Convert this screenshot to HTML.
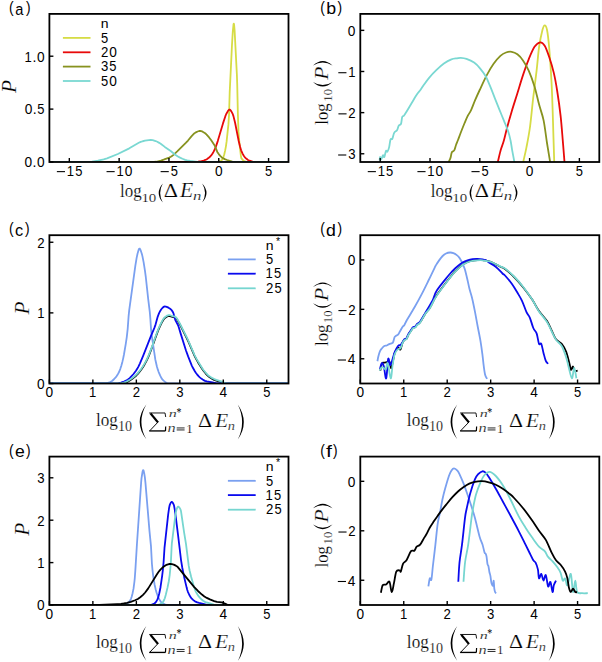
<!DOCTYPE html>
<html><head><meta charset="utf-8"><style>
html,body{margin:0;padding:0;background:#fff;}
svg{display:block;}
text{font-kerning:none;}
</style></head><body>
<svg width="602" height="662" viewBox="0 0 602 662">
<rect width="602" height="662" fill="#fff"/>
<clipPath id="c1"><rect x="49.40" y="13.90" width="239.10" height="148.10"/></clipPath>
<g clip-path="url(#c1)" fill="none" stroke-linejoin="round" stroke-linecap="butt">
<path d="M46.40,162.00 L214.65,162.00 L216.45,161.92 L218.08,161.70 L220.21,161.21 L221.03,160.87 L221.52,160.39 L222.17,159.44 L223.48,156.85 L224.30,154.22 L225.12,150.65 L225.93,146.34 L226.59,141.70 L228.39,124.68 L229.04,114.98 L229.69,92.46 L231.98,45.00 L232.80,31.52 L233.45,25.00 L233.62,24.02 L233.78,23.60 L233.94,23.92 L234.11,24.95 L234.60,30.39 L236.89,74.75 L237.22,84.37 L237.87,114.04 L238.52,131.89 L239.01,138.69 L239.50,143.64 L240.81,155.18 L241.14,157.29 L241.47,158.45 L242.77,159.93 L244.08,160.97 L245.55,161.68 L247.03,161.98 L291.50,162.00" stroke="#d6dc45" stroke-width="1.80"/>
<path d="M46.40,162.00 L194.21,162.00 L196.01,161.89 L198.14,161.60 L201.41,161.05 L203.70,160.52 L205.33,159.97 L206.80,159.22 L208.44,158.06 L210.24,156.47 L211.22,155.37 L212.20,154.02 L213.34,152.16 L214.49,150.03 L215.80,146.87 L217.76,141.12 L222.99,123.39 L225.44,115.95 L226.26,114.02 L227.89,111.06 L228.71,110.00 L229.20,109.66 L229.53,109.60 L229.86,109.68 L230.35,110.03 L231.33,111.35 L232.80,114.19 L233.45,116.13 L235.09,122.71 L238.69,140.97 L240.16,147.00 L241.14,150.30 L242.45,153.36 L243.76,155.75 L244.90,157.29 L246.54,158.84 L248.01,159.94 L249.48,160.69 L252.58,161.59 L255.04,161.97 L291.50,162.00" stroke="#e80a0a" stroke-width="1.80"/>
<path d="M46.40,162.00 L153.99,162.00 L156.28,161.75 L161.02,160.53 L164.29,159.44 L169.20,157.59 L170.83,156.79 L171.97,156.08 L173.77,154.62 L177.21,151.45 L186.04,142.63 L188.00,140.52 L191.43,136.31 L194.21,133.49 L195.36,132.63 L197.65,131.51 L199.12,131.02 L200.26,130.90 L201.24,131.06 L202.22,131.44 L205.17,133.25 L206.64,134.61 L209.09,137.43 L211.22,140.32 L214.16,144.70 L215.30,146.85 L217.27,151.89 L218.74,154.12 L220.21,155.90 L221.52,157.15 L222.83,158.08 L224.79,159.10 L227.08,159.99 L232.31,161.61 L233.62,161.88 L234.76,162.00 L291.50,162.00" stroke="#87921f" stroke-width="1.80"/>
<path d="M46.40,162.00 L89.40,161.99 L92.02,161.72 L97.91,160.65 L103.63,159.33 L107.06,158.35 L117.85,154.00 L129.30,148.32 L135.35,144.70 L138.78,142.78 L140.74,141.87 L142.71,141.25 L145.00,140.72 L148.76,140.07 L150.72,139.90 L152.68,140.14 L155.62,141.04 L157.26,141.75 L159.22,142.86 L161.02,144.01 L164.78,146.89 L170.67,150.95 L175.25,154.72 L177.53,156.23 L179.50,157.36 L182.44,158.73 L185.22,159.80 L187.18,160.35 L190.29,160.93 L197.32,161.79 L200.43,162.00 L291.50,162.00" stroke="#7ad8d2" stroke-width="1.80"/>
</g>
<line x1="69.32" y1="162.00" x2="69.32" y2="158.00" stroke="#000" stroke-width="1.40"/>
<rect x="56.86" y="171.09" width="8.14" height="1.08" fill="#000"/>
<text transform="matrix(0.6544 0.0000 0.0000 0.6888 66.8109 175.7000)" font-family="Liberation Sans" font-size="20" fill="#000">1</text>
<text transform="matrix(0.6467 0.0000 0.0000 0.6923 75.1358 175.7489)" font-family="Liberation Sans" font-size="20" fill="#000">5</text>
<line x1="119.14" y1="162.00" x2="119.14" y2="158.00" stroke="#000" stroke-width="1.40"/>
<rect x="106.54" y="171.09" width="8.14" height="1.08" fill="#000"/>
<text transform="matrix(0.6544 0.0000 0.0000 0.6888 116.4870 175.7000)" font-family="Liberation Sans" font-size="20" fill="#000">1</text>
<text transform="matrix(0.6852 0.0000 0.0000 0.6944 124.6483 175.7485)" font-family="Liberation Sans" font-size="20" fill="#000">0</text>
<line x1="168.95" y1="162.00" x2="168.95" y2="158.00" stroke="#000" stroke-width="1.40"/>
<rect x="160.63" y="171.09" width="8.14" height="1.08" fill="#000"/>
<text transform="matrix(0.6467 0.0000 0.0000 0.6923 170.6253 175.7489)" font-family="Liberation Sans" font-size="20" fill="#000">5</text>
<line x1="218.76" y1="162.00" x2="218.76" y2="158.00" stroke="#000" stroke-width="1.40"/>
<text transform="matrix(0.6852 0.0000 0.0000 0.6944 214.9518 175.7485)" font-family="Liberation Sans" font-size="20" fill="#000">0</text>
<line x1="268.57" y1="162.00" x2="268.57" y2="158.00" stroke="#000" stroke-width="1.40"/>
<text transform="matrix(0.6467 0.0000 0.0000 0.6923 264.9913 175.7489)" font-family="Liberation Sans" font-size="20" fill="#000">5</text>
<line x1="49.40" y1="162.00" x2="53.40" y2="162.00" stroke="#000" stroke-width="1.40"/>
<text transform="matrix(0.6852 0.0000 0.0000 0.6944 24.5106 167.3485)" font-family="Liberation Sans" font-size="20" fill="#000">0</text>
<text transform="matrix(0.7033 0.0000 0.0000 0.7539 32.5657 167.3000)" font-family="Liberation Sans" font-size="20" fill="#000">.</text>
<text transform="matrix(0.6852 0.0000 0.0000 0.6944 36.9139 167.3485)" font-family="Liberation Sans" font-size="20" fill="#000">0</text>
<line x1="49.40" y1="109.11" x2="53.40" y2="109.11" stroke="#000" stroke-width="1.40"/>
<text transform="matrix(0.6852 0.0000 0.0000 0.6944 24.7835 114.4556)" font-family="Liberation Sans" font-size="20" fill="#000">0</text>
<text transform="matrix(0.7033 0.0000 0.0000 0.7539 32.8386 114.4071)" font-family="Liberation Sans" font-size="20" fill="#000">.</text>
<text transform="matrix(0.6467 0.0000 0.0000 0.6923 37.3503 114.4560)" font-family="Liberation Sans" font-size="20" fill="#000">5</text>
<line x1="49.40" y1="56.21" x2="53.40" y2="56.21" stroke="#000" stroke-width="1.40"/>
<text transform="matrix(0.6544 0.0000 0.0000 0.6888 24.6202 61.5143)" font-family="Liberation Sans" font-size="20" fill="#000">1</text>
<text transform="matrix(0.7033 0.0000 0.0000 0.7539 32.5657 61.5143)" font-family="Liberation Sans" font-size="20" fill="#000">.</text>
<text transform="matrix(0.6852 0.0000 0.0000 0.6944 36.9139 61.5627)" font-family="Liberation Sans" font-size="20" fill="#000">0</text>
<rect x="49.40" y="13.90" width="239.10" height="148.10" fill="none" stroke="#000" stroke-width="1.80"/>
<line x1="62.90" y1="37.90" x2="90.50" y2="37.90" stroke="#d6dc45" stroke-width="1.80"/>
<text transform="matrix(0.6467 0.0000 0.0000 0.6923 101.0822 42.6489)" font-family="Liberation Sans" font-size="20" fill="#000">5</text>
<line x1="62.90" y1="52.30" x2="90.50" y2="52.30" stroke="#e80a0a" stroke-width="1.80"/>
<text transform="matrix(0.6605 0.0000 0.0000 0.6909 100.9357 57.0000)" font-family="Liberation Sans" font-size="20" fill="#000">2</text>
<text transform="matrix(0.6852 0.0000 0.0000 0.6944 109.2405 57.0485)" font-family="Liberation Sans" font-size="20" fill="#000">0</text>
<line x1="62.90" y1="66.60" x2="90.50" y2="66.60" stroke="#87921f" stroke-width="1.80"/>
<text transform="matrix(0.6580 0.0000 0.0000 0.6944 101.0988 71.3485)" font-family="Liberation Sans" font-size="20" fill="#000">3</text>
<text transform="matrix(0.6467 0.0000 0.0000 0.6923 109.3659 71.3489)" font-family="Liberation Sans" font-size="20" fill="#000">5</text>
<line x1="62.90" y1="81.00" x2="90.50" y2="81.00" stroke="#7ad8d2" stroke-width="1.80"/>
<text transform="matrix(0.6467 0.0000 0.0000 0.6923 101.0822 85.7489)" font-family="Liberation Sans" font-size="20" fill="#000">5</text>
<text transform="matrix(0.6852 0.0000 0.0000 0.6944 109.1897 85.7485)" font-family="Liberation Sans" font-size="20" fill="#000">0</text>
<text transform="matrix(0.7008 0.0000 0.0000 0.6765 100.6692 28.1000)" font-family="Liberation Sans" font-size="20" fill="#000">n</text>
<text transform="matrix(0.6889 0.0000 0.0000 0.7791 9.0456 13.3946)" font-family="Liberation Sans" font-size="20" fill="#000">(</text>
<text transform="matrix(0.7329 0.0000 0.0000 0.8542 15.2147 14.5357)" font-family="Liberation Sans" font-size="20" fill="#000">a</text>
<text transform="matrix(0.6889 0.0000 0.0000 0.7791 26.0715 13.3946)" font-family="Liberation Sans" font-size="20" fill="#000">)</text>
<text transform="matrix(0.8476 0.0000 0.0000 0.9289 119.9606 197.3904)" font-family="Liberation Serif" stroke="#fff" stroke-width="0.225" font-size="20" fill="#000">log</text>
<text transform="matrix(0.7494 0.0000 0.0000 0.6595 141.3827 202.0712)" font-family="Liberation Serif" stroke="#fff" stroke-width="0.284" font-size="20" fill="#000">10</text>
<path d="M162.80,183.40 Q154.60,192.95 162.80,202.50 Q157.50,192.95 162.80,183.40 Z" fill="#000"/>
<text transform="matrix(1.1104 0.0000 0.0000 0.9922 163.8542 197.3000)" font-family="Liberation Serif" stroke="#fff" stroke-width="0.191" font-size="20" fill="#000">Δ</text>
<text transform="matrix(1.0801 0.0000 0.0000 1.0003 180.0531 197.3000)" font-family="Liberation Serif" font-style="italic" stroke="#fff" stroke-width="0.192" font-size="20" fill="#000">E</text>
<text transform="matrix(0.8395 0.0000 0.0000 0.6685 192.9015 200.1000)" font-family="Liberation Serif" font-style="italic" stroke="#fff" stroke-width="0.267" font-size="20" fill="#000">n</text>
<path d="M202.20,183.60 Q210.80,193.05 202.20,202.50 Q207.90,193.05 202.20,183.60 Z" fill="#000"/>
<text transform="matrix(0.0000 -1.0748 1.0156 0.0000 15.8000 93.0845)" font-family="Liberation Serif" font-style="italic" stroke="#fff" stroke-width="0.191" font-size="20" fill="#000">P</text>
<clipPath id="c2"><rect x="360.30" y="13.90" width="239.00" height="148.10"/></clipPath>
<g clip-path="url(#c2)" fill="none" stroke-linejoin="round" stroke-linecap="butt">
<path d="M523.20,162.00 C523.25,161.78 522.97,163.10 523.50,160.70 C524.03,158.30 525.32,153.22 526.40,147.60 C527.48,141.98 528.87,135.30 530.00,127.00 C531.13,118.70 532.10,107.20 533.20,97.80 C534.30,88.40 535.62,79.07 536.60,70.60 C537.58,62.13 538.12,53.80 539.10,47.00 C540.08,40.20 541.57,33.42 542.50,29.80 C543.43,26.18 543.95,25.30 544.70,25.30 C545.45,25.30 546.25,26.02 547.00,29.80 C547.75,33.58 548.45,39.32 549.20,48.00 C549.95,56.68 550.93,71.72 551.50,81.90 C552.07,92.08 552.27,99.67 552.60,109.10 C552.93,118.53 553.23,129.90 553.50,138.50 C553.77,147.10 554.07,156.78 554.20,160.70 C554.33,164.62 554.28,161.78 554.30,162.00" stroke="#d6dc45" stroke-width="1.80"/>
<path d="M497.80,162.00 C497.85,161.78 497.60,162.73 498.10,160.70 C498.60,158.67 499.85,153.12 500.80,149.80 C501.75,146.48 502.73,144.57 503.80,140.80 C504.87,137.03 505.88,132.10 507.20,127.20 C508.52,122.30 510.00,117.07 511.70,111.40 C513.40,105.73 515.52,99.25 517.40,93.20 C519.28,87.15 521.12,80.75 523.00,75.10 C524.88,69.45 526.78,64.02 528.70,59.30 C530.62,54.58 532.58,49.63 534.50,46.80 C536.42,43.97 538.50,42.48 540.20,42.30 C541.90,42.12 543.20,43.25 544.70,45.70 C546.20,48.15 547.68,52.47 549.20,57.00 C550.72,61.53 552.47,67.23 553.80,72.90 C555.13,78.57 556.07,83.83 557.20,91.00 C558.33,98.17 559.67,107.60 560.60,115.90 C561.53,124.20 562.17,133.33 562.80,140.80 C563.43,148.27 564.12,157.17 564.40,160.70 C564.68,164.23 564.48,161.78 564.50,162.00" stroke="#e80a0a" stroke-width="1.80"/>
<path d="M448.60,162.00 C448.92,161.32 449.97,159.52 450.50,157.90 C451.03,156.28 451.18,153.55 451.80,152.30 C452.42,151.05 453.48,151.67 454.20,150.40 C454.92,149.13 455.47,146.43 456.10,144.70 C456.73,142.97 457.22,142.03 458.00,140.00 C458.78,137.97 459.70,135.33 460.80,132.50 C461.90,129.67 463.48,125.68 464.60,123.00 C465.72,120.32 466.40,118.60 467.50,116.40 C468.60,114.20 469.95,112.47 471.20,109.80 C472.45,107.13 473.58,103.70 475.00,100.40 C476.42,97.10 477.73,94.22 479.70,90.00 C481.67,85.78 484.48,79.47 486.80,75.10 C489.12,70.73 491.33,67.00 493.60,63.80 C495.87,60.60 498.33,57.78 500.40,55.90 C502.47,54.02 504.12,53.18 506.00,52.50 C507.88,51.82 509.80,51.50 511.70,51.80 C513.60,52.10 515.52,52.87 517.40,54.30 C519.28,55.73 521.12,57.68 523.00,60.40 C524.88,63.12 526.78,66.27 528.70,70.60 C530.62,74.93 532.77,80.73 534.50,86.40 C536.23,92.07 537.58,98.93 539.10,104.60 C540.62,110.27 542.28,114.00 543.60,120.40 C544.92,126.80 545.95,136.28 547.00,143.00 C548.05,149.72 549.38,157.53 549.90,160.70 C550.42,163.87 550.07,161.78 550.10,162.00" stroke="#87921f" stroke-width="1.80"/>
<path d="M379.60,160.40 C379.68,159.83 379.82,157.20 380.10,157.00 C380.38,156.80 380.82,159.50 381.30,159.20 C381.78,158.90 382.50,155.57 383.00,155.20 C383.50,154.83 383.80,157.72 384.30,157.00 C384.80,156.28 385.48,151.78 386.00,150.90 C386.52,150.02 386.88,152.28 387.40,151.70 C387.92,151.12 388.58,149.42 389.10,147.40 C389.62,145.38 389.97,141.05 390.50,139.60 C391.03,138.15 391.67,139.87 392.30,138.70 C392.93,137.53 393.52,134.00 394.30,132.60 C395.08,131.20 396.27,131.45 397.00,130.30 C397.73,129.15 398.03,126.77 398.70,125.70 C399.37,124.63 400.42,125.35 401.00,123.90 C401.58,122.45 401.72,118.37 402.20,117.00 C402.68,115.63 403.18,116.58 403.90,115.70 C404.62,114.82 405.20,113.82 406.50,111.70 C407.80,109.58 409.95,105.90 411.70,103.00 C413.45,100.10 415.55,96.47 417.00,94.30 C418.45,92.13 419.25,91.58 420.40,90.00 C421.55,88.42 422.45,86.83 423.90,84.80 C425.35,82.77 427.03,80.23 429.10,77.80 C431.17,75.37 433.83,72.57 436.30,70.20 C438.77,67.83 441.38,65.40 443.90,63.60 C446.42,61.80 449.20,60.28 451.40,59.40 C453.60,58.52 455.53,58.55 457.10,58.30 C458.67,58.05 459.23,57.80 460.80,57.90 C462.37,58.00 464.28,58.12 466.50,58.90 C468.72,59.68 471.85,61.03 474.10,62.60 C476.35,64.17 478.07,66.02 480.00,68.30 C481.93,70.58 484.00,73.28 485.70,76.30 C487.40,79.32 488.70,82.82 490.20,86.40 C491.70,89.98 493.20,94.02 494.70,97.80 C496.20,101.58 497.68,105.33 499.20,109.10 C500.72,112.87 502.28,116.63 503.80,120.40 C505.32,124.17 507.17,128.30 508.30,131.70 C509.43,135.10 509.97,137.78 510.60,140.80 C511.23,143.82 511.53,146.60 512.10,149.80 C512.67,153.00 513.62,157.97 514.00,160.00 C514.38,162.03 514.33,161.67 514.40,162.00" stroke="#7ad8d2" stroke-width="1.80"/>
</g>
<line x1="380.22" y1="162.00" x2="380.22" y2="158.00" stroke="#000" stroke-width="1.40"/>
<rect x="367.76" y="171.09" width="8.14" height="1.08" fill="#000"/>
<text transform="matrix(0.6544 0.0000 0.0000 0.6888 377.7026 175.7000)" font-family="Liberation Sans" font-size="20" fill="#000">1</text>
<text transform="matrix(0.6467 0.0000 0.0000 0.6923 386.0275 175.7489)" font-family="Liberation Sans" font-size="20" fill="#000">5</text>
<line x1="430.01" y1="162.00" x2="430.01" y2="158.00" stroke="#000" stroke-width="1.40"/>
<rect x="417.41" y="171.09" width="8.14" height="1.08" fill="#000"/>
<text transform="matrix(0.6544 0.0000 0.0000 0.6888 427.3578 175.7000)" font-family="Liberation Sans" font-size="20" fill="#000">1</text>
<text transform="matrix(0.6852 0.0000 0.0000 0.6944 435.5192 175.7485)" font-family="Liberation Sans" font-size="20" fill="#000">0</text>
<line x1="479.80" y1="162.00" x2="479.80" y2="158.00" stroke="#000" stroke-width="1.40"/>
<rect x="471.48" y="171.09" width="8.14" height="1.08" fill="#000"/>
<text transform="matrix(0.6467 0.0000 0.0000 0.6923 481.4753 175.7489)" font-family="Liberation Sans" font-size="20" fill="#000">5</text>
<line x1="529.59" y1="162.00" x2="529.59" y2="158.00" stroke="#000" stroke-width="1.40"/>
<text transform="matrix(0.6852 0.0000 0.0000 0.6944 525.7810 175.7485)" font-family="Liberation Sans" font-size="20" fill="#000">0</text>
<line x1="579.38" y1="162.00" x2="579.38" y2="158.00" stroke="#000" stroke-width="1.40"/>
<text transform="matrix(0.6467 0.0000 0.0000 0.6923 575.7996 175.7489)" font-family="Liberation Sans" font-size="20" fill="#000">5</text>
<line x1="360.30" y1="153.77" x2="364.30" y2="153.77" stroke="#000" stroke-width="1.40"/>
<rect x="338.15" y="154.46" width="8.14" height="1.08" fill="#000"/>
<text transform="matrix(0.6580 0.0000 0.0000 0.6944 348.1590 159.1207)" font-family="Liberation Sans" font-size="20" fill="#000">3</text>
<line x1="360.30" y1="112.63" x2="364.30" y2="112.63" stroke="#000" stroke-width="1.40"/>
<rect x="338.42" y="113.32" width="8.14" height="1.08" fill="#000"/>
<text transform="matrix(0.6605 0.0000 0.0000 0.6909 348.2181 117.9333)" font-family="Liberation Sans" font-size="20" fill="#000">2</text>
<line x1="360.30" y1="71.49" x2="364.30" y2="71.49" stroke="#000" stroke-width="1.40"/>
<rect x="338.31" y="72.18" width="8.14" height="1.08" fill="#000"/>
<text transform="matrix(0.6544 0.0000 0.0000 0.6888 348.2600 76.7944)" font-family="Liberation Sans" font-size="20" fill="#000">1</text>
<line x1="360.30" y1="30.36" x2="364.30" y2="30.36" stroke="#000" stroke-width="1.40"/>
<text transform="matrix(0.6852 0.0000 0.0000 0.6944 347.8139 35.7040)" font-family="Liberation Sans" font-size="20" fill="#000">0</text>
<rect x="360.30" y="13.90" width="239.00" height="148.10" fill="none" stroke="#000" stroke-width="1.80"/>
<text transform="matrix(0.6889 0.0000 0.0000 0.7791 320.1456 13.1946)" font-family="Liberation Sans" font-size="20" fill="#000">(</text>
<text transform="matrix(0.8867 0.0000 0.0000 0.8589 326.2958 14.3348)" font-family="Liberation Sans" font-size="20" fill="#000">b</text>
<text transform="matrix(0.6889 0.0000 0.0000 0.7791 337.5297 13.1946)" font-family="Liberation Sans" font-size="20" fill="#000">)</text>
<text transform="matrix(0.8476 0.0000 0.0000 0.9289 430.8606 197.3904)" font-family="Liberation Serif" stroke="#fff" stroke-width="0.225" font-size="20" fill="#000">log</text>
<text transform="matrix(0.7494 0.0000 0.0000 0.6595 452.2827 202.0712)" font-family="Liberation Serif" stroke="#fff" stroke-width="0.284" font-size="20" fill="#000">10</text>
<path d="M473.70,183.40 Q465.50,192.95 473.70,202.50 Q468.40,192.95 473.70,183.40 Z" fill="#000"/>
<text transform="matrix(1.1104 0.0000 0.0000 0.9922 474.7542 197.3000)" font-family="Liberation Serif" stroke="#fff" stroke-width="0.191" font-size="20" fill="#000">Δ</text>
<text transform="matrix(1.0801 0.0000 0.0000 1.0003 490.9531 197.3000)" font-family="Liberation Serif" font-style="italic" stroke="#fff" stroke-width="0.192" font-size="20" fill="#000">E</text>
<text transform="matrix(0.8395 0.0000 0.0000 0.6685 503.8015 200.1000)" font-family="Liberation Serif" font-style="italic" stroke="#fff" stroke-width="0.267" font-size="20" fill="#000">n</text>
<path d="M513.10,183.60 Q521.70,193.05 513.10,202.50 Q518.80,193.05 513.10,183.60 Z" fill="#000"/>
<text transform="matrix(0.0000 -0.8395 0.9674 0.0000 327.7244 124.7361)" font-family="Liberation Serif" stroke="#fff" stroke-width="0.222" font-size="20" fill="#000">log</text>
<text transform="matrix(0.0000 -0.6236 0.6743 0.0000 332.2683 101.5961)" font-family="Liberation Serif" stroke="#fff" stroke-width="0.308" font-size="20" fill="#000">10</text>
<path d="M313.00,81.90 Q322.75,91.10 332.50,81.90 Q322.75,88.20 313.00,81.90 Z" fill="#000"/>
<text transform="matrix(0.0000 -1.0832 0.9927 0.0000 327.5000 79.7836)" font-family="Liberation Serif" font-style="italic" stroke="#fff" stroke-width="0.193" font-size="20" fill="#000">P</text>
<path d="M313.00,65.60 Q322.75,56.60 332.50,65.60 Q322.75,59.50 313.00,65.60 Z" fill="#000"/>
<clipPath id="c3"><rect x="49.40" y="235.20" width="239.10" height="148.30"/></clipPath>
<g clip-path="url(#c3)" fill="none" stroke-linejoin="round" stroke-linecap="butt">
<g transform="translate(0,0.8)">
<path d="M46.40,383.50 L119.41,383.49 L121.25,383.25 L123.70,382.60 L125.85,381.89 L127.69,380.98 L130.15,379.52 L132.29,378.04 L134.44,376.33 L136.28,374.66 L137.81,373.07 L139.65,370.90 L141.50,368.47 L143.03,366.20 L144.56,363.63 L146.10,360.77 L147.94,357.01 L148.86,354.90 L152.23,346.07 L155.30,337.29 L158.06,329.88 L159.59,326.24 L161.74,321.87 L163.27,319.14 L164.20,317.87 L164.81,317.25 L166.34,316.15 L167.26,315.61 L168.18,315.24 L169.10,315.10 L170.02,315.23 L172.48,316.07 L174.32,316.42 L175.24,316.71 L175.85,317.18 L176.77,318.33 L180.15,324.07 L186.59,336.99 L188.74,341.60 L194.56,355.09 L196.10,358.11 L197.94,361.35 L202.23,368.25 L203.46,369.95 L205.91,372.97 L207.45,374.62 L208.68,375.70 L210.52,377.02 L212.36,378.12 L214.20,379.06 L216.34,379.95 L221.87,381.73 L225.24,383.07 L227.08,383.48 L291.50,383.50" stroke="#000000" stroke-width="1.80"/>
</g>
<path d="M46.40,383.50 L104.99,383.45 L106.52,383.22 L108.06,382.83 L110.21,382.12 L111.13,381.64 L112.35,380.73 L114.19,379.01 L115.42,377.68 L116.65,376.09 L117.87,374.18 L118.79,372.50 L119.41,371.22 L120.33,368.82 L121.25,365.90 L122.48,361.39 L123.09,358.84 L124.01,354.24 L125.85,343.31 L126.77,337.06 L127.69,328.83 L128.61,316.12 L129.22,310.11 L135.36,265.58 L136.59,258.09 L137.51,253.77 L138.73,249.59 L139.04,248.92 L139.35,248.55 L139.65,248.54 L139.96,248.82 L140.57,250.06 L141.80,253.81 L142.42,256.13 L143.64,262.33 L144.87,270.05 L145.79,276.99 L148.24,299.30 L149.78,311.95 L150.39,319.07 L151.00,328.59 L151.62,334.67 L155.30,359.48 L156.83,366.21 L157.75,369.42 L158.67,372.03 L160.21,375.66 L161.43,378.05 L162.35,379.41 L163.58,380.62 L165.12,381.89 L166.34,382.71 L167.57,383.27 L168.80,383.50 L291.50,383.50" stroke="#7aa0f0" stroke-width="1.80"/>
<path d="M46.40,383.50 L112.05,383.50 L114.50,383.44 L118.49,383.15 L120.94,382.66 L124.01,381.57 L127.69,379.76 L128.92,378.84 L130.15,377.70 L133.52,374.00 L135.97,370.68 L137.51,368.23 L138.43,366.56 L139.96,363.30 L143.03,356.03 L150.70,336.70 L154.38,327.85 L155.61,324.33 L157.75,316.56 L158.98,313.38 L160.21,310.88 L161.13,309.49 L162.35,308.04 L163.27,307.12 L164.20,306.53 L164.81,306.40 L165.73,306.52 L166.65,306.83 L168.49,307.69 L169.72,308.43 L170.64,309.17 L171.56,310.08 L172.78,311.87 L173.40,313.14 L173.70,314.12 L174.63,317.95 L175.24,319.81 L175.85,321.13 L177.69,324.45 L178.61,326.72 L180.76,333.87 L185.98,350.53 L188.12,356.41 L191.80,365.54 L193.03,368.03 L194.56,370.78 L195.79,372.67 L197.02,374.31 L198.55,376.14 L199.78,377.37 L201.62,378.84 L203.15,379.88 L204.99,380.84 L206.83,381.42 L212.36,382.47 L215.73,383.25 L217.57,383.49 L291.50,383.50" stroke="#0a0aee" stroke-width="1.80"/>
<path d="M46.40,383.50 L119.41,383.49 L121.25,383.25 L123.70,382.60 L125.85,381.89 L127.69,380.98 L130.15,379.52 L132.29,378.04 L134.44,376.33 L136.28,374.66 L137.81,373.07 L139.65,370.90 L141.50,368.47 L143.03,366.20 L144.56,363.63 L146.10,360.77 L147.94,357.01 L148.86,354.90 L152.23,346.07 L155.30,337.29 L158.06,329.88 L159.59,326.24 L161.74,321.87 L163.27,319.14 L164.20,317.87 L164.81,317.25 L166.34,316.15 L167.26,315.61 L168.18,315.24 L169.10,315.10 L170.02,315.23 L172.48,316.07 L174.32,316.42 L175.24,316.71 L175.85,317.18 L176.77,318.33 L180.15,324.07 L186.59,336.99 L188.74,341.60 L194.56,355.09 L196.10,358.11 L197.94,361.35 L202.23,368.25 L203.46,369.95 L205.91,372.97 L207.45,374.62 L208.68,375.70 L210.52,377.02 L212.36,378.12 L214.20,379.06 L216.34,379.95 L221.87,381.73 L225.24,383.07 L227.08,383.48 L291.50,383.50" stroke="#76d6d0" stroke-width="1.80"/>
</g>
<line x1="49.40" y1="383.50" x2="49.40" y2="379.50" stroke="#000" stroke-width="1.40"/>
<text transform="matrix(0.6852 0.0000 0.0000 0.6944 45.5893 397.2485)" font-family="Liberation Sans" font-size="20" fill="#000">0</text>
<line x1="92.87" y1="383.50" x2="92.87" y2="379.50" stroke="#000" stroke-width="1.40"/>
<text transform="matrix(0.6544 0.0000 0.0000 0.6888 89.0542 397.2000)" font-family="Liberation Sans" font-size="20" fill="#000">1</text>
<line x1="136.35" y1="383.50" x2="136.35" y2="379.50" stroke="#000" stroke-width="1.40"/>
<text transform="matrix(0.6605 0.0000 0.0000 0.6909 132.6723 397.2000)" font-family="Liberation Sans" font-size="20" fill="#000">2</text>
<line x1="179.82" y1="383.50" x2="179.82" y2="379.50" stroke="#000" stroke-width="1.40"/>
<text transform="matrix(0.6580 0.0000 0.0000 0.6944 176.1971 397.2485)" font-family="Liberation Sans" font-size="20" fill="#000">3</text>
<line x1="223.29" y1="383.50" x2="223.29" y2="379.50" stroke="#000" stroke-width="1.40"/>
<text transform="matrix(0.6853 0.0000 0.0000 0.6888 219.5233 397.2000)" font-family="Liberation Sans" font-size="20" fill="#000">4</text>
<line x1="266.76" y1="383.50" x2="266.76" y2="379.50" stroke="#000" stroke-width="1.40"/>
<text transform="matrix(0.6467 0.0000 0.0000 0.6923 263.1799 397.2489)" font-family="Liberation Sans" font-size="20" fill="#000">5</text>
<line x1="49.40" y1="383.50" x2="53.40" y2="383.50" stroke="#000" stroke-width="1.40"/>
<text transform="matrix(0.6852 0.0000 0.0000 0.6944 36.9139 388.8485)" font-family="Liberation Sans" font-size="20" fill="#000">0</text>
<line x1="49.40" y1="312.88" x2="53.40" y2="312.88" stroke="#000" stroke-width="1.40"/>
<text transform="matrix(0.6544 0.0000 0.0000 0.6888 37.3600 318.1810)" font-family="Liberation Sans" font-size="20" fill="#000">1</text>
<line x1="49.40" y1="242.26" x2="53.40" y2="242.26" stroke="#000" stroke-width="1.40"/>
<text transform="matrix(0.6605 0.0000 0.0000 0.6909 37.3181 247.5619)" font-family="Liberation Sans" font-size="20" fill="#000">2</text>
<rect x="49.40" y="235.20" width="239.10" height="148.30" fill="none" stroke="#000" stroke-width="1.80"/>
<line x1="227.90" y1="259.40" x2="255.70" y2="259.40" stroke="#7aa0f0" stroke-width="1.80"/>
<text transform="matrix(0.6467 0.0000 0.0000 0.6923 266.0822 264.1489)" font-family="Liberation Sans" font-size="20" fill="#000">5</text>
<line x1="227.90" y1="273.70" x2="255.70" y2="273.70" stroke="#0a0aee" stroke-width="1.80"/>
<text transform="matrix(0.6544 0.0000 0.0000 0.6888 265.6030 278.4000)" font-family="Liberation Sans" font-size="20" fill="#000">1</text>
<text transform="matrix(0.6467 0.0000 0.0000 0.6923 273.9279 278.4489)" font-family="Liberation Sans" font-size="20" fill="#000">5</text>
<line x1="227.90" y1="288.30" x2="255.70" y2="288.30" stroke="#76d6d0" stroke-width="1.80"/>
<text transform="matrix(0.6605 0.0000 0.0000 0.6909 265.9357 293.0000)" font-family="Liberation Sans" font-size="20" fill="#000">2</text>
<text transform="matrix(0.6467 0.0000 0.0000 0.6923 274.4039 293.0489)" font-family="Liberation Sans" font-size="20" fill="#000">5</text>
<text transform="matrix(0.7008 0.0000 0.0000 0.6765 265.6692 249.5000)" font-family="Liberation Sans" font-size="20" fill="#000">n</text>
<text transform="matrix(0.5316 0.0000 0.0000 0.5127 275.9287 244.7548)" font-family="Liberation Sans" font-size="20" fill="#000">*</text>
<text transform="matrix(0.6889 0.0000 0.0000 0.7791 9.0456 234.3946)" font-family="Liberation Sans" font-size="20" fill="#000">(</text>
<text transform="matrix(0.8178 0.0000 0.0000 0.8542 15.0630 235.5357)" font-family="Liberation Sans" font-size="20" fill="#000">c</text>
<text transform="matrix(0.6889 0.0000 0.0000 0.7791 25.0448 234.3946)" font-family="Liberation Sans" font-size="20" fill="#000">)</text>
<text transform="matrix(0.8597 0.0000 0.0000 0.9894 95.9558 426.3295)" font-family="Liberation Serif" stroke="#fff" stroke-width="0.217" font-size="20" fill="#000">log</text>
<text transform="matrix(0.7036 0.0000 0.0000 0.7410 118.0631 431.0553)" font-family="Liberation Serif" stroke="#fff" stroke-width="0.277" font-size="20" fill="#000">10</text>
<path d="M146.30,404.40 Q133.10,421.80 146.30,439.20 Q136.50,421.80 146.30,404.40 Z" fill="#000"/>
<line x1="149.20" y1="412.98" x2="165.04" y2="412.98" stroke="#000" stroke-width="0.90"/>
<line x1="165.04" y1="412.98" x2="165.70" y2="417.01" stroke="#000" stroke-width="0.90"/>
<line x1="150.52" y1="413.36" x2="157.94" y2="422.38" stroke="#000" stroke-width="2.30"/>
<line x1="158.28" y1="421.81" x2="149.70" y2="430.83" stroke="#000" stroke-width="0.95"/>
<line x1="149.20" y1="430.93" x2="165.45" y2="430.93" stroke="#000" stroke-width="1.35"/>
<line x1="165.45" y1="431.02" x2="165.70" y2="426.42" stroke="#000" stroke-width="1.20"/>
<text transform="matrix(0.8041 0.0000 0.0000 0.4881 168.7268 417.1000)" font-family="Liberation Serif" font-style="italic" stroke="#fff" stroke-width="0.319" font-size="20" fill="#000">n</text>
<text transform="matrix(0.4959 0.0000 0.0000 0.5863 176.4157 415.9782)" font-family="Liberation Serif" font-size="20" fill="#000">*</text>
<text transform="matrix(0.8159 0.0000 0.0000 0.5730 167.6184 432.1000)" font-family="Liberation Serif" font-style="italic" stroke="#fff" stroke-width="0.293" font-size="20" fill="#000">n</text>
<path d="M176.70,427.95H184.60M176.70,429.95H184.60" stroke="#000" stroke-width="0.85"/>
<text transform="matrix(0.6959 0.0000 0.0000 0.5983 185.8767 432.6000)" font-family="Liberation Serif" stroke="#fff" stroke-width="0.310" font-size="20" fill="#000">1</text>
<text transform="matrix(1.0927 0.0000 0.0000 0.9695 198.0676 426.8000)" font-family="Liberation Serif" stroke="#fff" stroke-width="0.194" font-size="20" fill="#000">Δ</text>
<text transform="matrix(1.0553 0.0000 0.0000 0.9774 215.1473 426.8000)" font-family="Liberation Serif" font-style="italic" stroke="#fff" stroke-width="0.197" font-size="20" fill="#000">E</text>
<text transform="matrix(0.7213 0.0000 0.0000 0.5730 227.7858 429.7000)" font-family="Liberation Serif" font-style="italic" stroke="#fff" stroke-width="0.311" font-size="20" fill="#000">n</text>
<path d="M237.80,404.40 Q249.80,422.00 237.80,439.60 Q246.40,422.00 237.80,404.40 Z" fill="#000"/>
<text transform="matrix(0.0000 -1.0748 1.0156 0.0000 28.6000 314.3845)" font-family="Liberation Serif" font-style="italic" stroke="#fff" stroke-width="0.191" font-size="20" fill="#000">P</text>
<clipPath id="c4"><rect x="360.30" y="235.20" width="239.00" height="148.30"/></clipPath>
<g clip-path="url(#c4)" fill="none" stroke-linejoin="round" stroke-linecap="butt">
<path d="M380.30,370.60 C380.55,369.45 381.30,365.02 381.80,363.70 C382.30,362.38 382.63,362.92 383.30,362.70 C383.97,362.48 384.98,362.57 385.80,362.40 C386.62,362.23 387.55,361.73 388.20,361.70 C388.85,361.67 389.20,361.13 389.70,362.20 C390.20,363.27 390.63,368.42 391.20,368.10 C391.77,367.78 392.53,362.75 393.10,360.30 C393.67,357.85 394.02,355.20 394.60,353.40 C395.18,351.60 395.95,350.40 396.60,349.50 C397.25,348.60 397.85,348.00 398.50,348.00 C399.15,348.00 399.83,350.37 400.50,349.50 C401.17,348.63 401.85,344.42 402.50,342.80 C403.15,341.18 403.75,340.45 404.40,339.80 C405.05,339.15 405.75,339.72 406.40,338.90 C407.05,338.08 407.57,336.22 408.30,334.90 C409.03,333.58 410.05,332.13 410.80,331.00 C411.55,329.87 412.07,328.75 412.80,328.10 C413.53,327.45 414.47,327.68 415.20,327.10 C415.93,326.52 416.38,325.42 417.20,324.60 C418.02,323.78 418.68,324.13 420.10,322.20 C421.52,320.27 424.05,315.45 425.70,313.00 C427.35,310.55 428.15,310.48 430.00,307.50 C431.85,304.52 433.17,300.48 436.80,295.10 C440.43,289.72 448.47,279.42 451.80,275.20 C455.13,270.98 455.00,271.53 456.80,269.80 C458.60,268.07 460.80,266.12 462.60,264.80 C464.40,263.48 465.95,262.62 467.60,261.90 C469.25,261.18 470.85,260.82 472.50,260.50 C474.15,260.18 475.83,260.08 477.50,260.00 C479.17,259.92 481.12,259.88 482.50,260.00 C483.88,260.12 484.35,260.33 485.80,260.70 C487.25,261.07 488.78,261.20 491.20,262.20 C493.62,263.20 498.00,265.57 500.30,266.70 C502.60,267.83 502.70,267.28 505.00,269.00 C507.30,270.72 511.08,273.97 514.10,277.00 C517.12,280.03 520.08,283.43 523.10,287.20 C526.12,290.97 529.55,295.63 532.20,299.60 C534.85,303.57 536.53,307.43 539.00,311.00 C541.47,314.57 544.92,317.80 547.00,321.00 C549.08,324.20 550.00,327.15 551.50,330.20 C553.00,333.25 554.30,337.03 556.00,339.30 C557.70,341.57 560.00,341.72 561.70,343.80 C563.40,345.88 564.88,348.38 566.20,351.80 C567.52,355.22 568.83,361.28 569.60,364.30 C570.37,367.32 570.23,369.53 570.80,369.90 C571.37,370.27 572.43,366.32 573.00,366.50 C573.57,366.68 573.43,370.32 574.20,371.00 C574.97,371.68 577.03,370.67 577.60,370.60" stroke="#000000" stroke-width="1.80"/>
<path d="M377.40,361.30 C377.57,360.47 377.98,357.95 378.40,356.30 C378.82,354.65 379.33,352.70 379.90,351.40 C380.47,350.10 381.07,349.40 381.80,348.50 C382.53,347.60 383.48,346.50 384.30,346.00 C385.12,345.50 385.88,345.82 386.70,345.50 C387.52,345.18 388.30,344.50 389.20,344.10 C390.10,343.70 391.45,343.43 392.10,343.10 C392.75,342.77 392.68,343.08 393.10,342.10 C393.52,341.12 394.10,338.27 394.60,337.20 C395.10,336.13 395.53,336.12 396.10,335.70 C396.67,335.28 397.35,335.43 398.00,334.70 C398.65,333.97 399.25,332.60 400.00,331.30 C400.75,330.00 401.77,327.97 402.50,326.90 C403.23,325.83 403.67,326.05 404.40,324.90 C405.13,323.75 405.23,322.90 406.90,320.00 C408.57,317.10 412.02,311.65 414.40,307.50 C416.78,303.35 418.93,299.43 421.20,295.10 C423.47,290.77 425.77,286.05 428.00,281.50 C430.23,276.95 433.27,270.53 434.60,267.80 C435.93,265.07 435.22,266.38 436.00,265.10 C436.78,263.82 438.20,261.62 439.30,260.10 C440.40,258.58 441.48,257.10 442.60,256.00 C443.72,254.90 444.75,254.08 446.00,253.50 C447.25,252.92 448.87,252.57 450.10,252.50 C451.33,252.43 452.28,252.67 453.40,253.10 C454.52,253.53 455.82,254.35 456.80,255.10 C457.78,255.85 458.55,256.62 459.30,257.60 C460.05,258.58 460.62,259.68 461.30,261.00 C461.98,262.32 462.75,263.92 463.40,265.50 C464.05,267.08 464.52,268.08 465.20,270.50 C465.88,272.92 466.78,276.92 467.50,280.00 C468.22,283.08 468.75,286.05 469.50,289.00 C470.25,291.95 471.12,294.05 472.00,297.70 C472.88,301.35 473.87,306.18 474.80,310.90 C475.73,315.62 476.65,320.97 477.60,326.00 C478.55,331.03 479.70,336.38 480.50,341.10 C481.30,345.82 481.87,350.20 482.40,354.30 C482.93,358.40 483.23,362.23 483.70,365.70 C484.17,369.17 484.63,372.90 485.20,375.10 C485.77,377.30 486.78,378.27 487.10,378.90" stroke="#7aa0f0" stroke-width="1.80"/>
<path d="M379.90,369.10 C380.22,368.12 381.15,363.68 381.80,363.20 C382.45,362.72 383.07,363.67 383.80,366.20 C384.53,368.73 385.47,379.63 386.20,378.40 C386.93,377.17 387.53,361.00 388.20,358.80 C388.87,356.60 389.52,365.00 390.20,365.20 C390.88,365.40 391.57,362.13 392.30,360.00 C393.03,357.87 393.65,354.73 394.60,352.40 C395.55,350.07 397.02,347.23 398.00,346.00 C398.98,344.77 399.75,345.63 400.50,345.00 C401.25,344.37 401.85,343.17 402.50,342.20 C403.15,341.23 403.75,339.85 404.40,339.20 C405.05,338.55 405.75,339.12 406.40,338.30 C407.05,337.48 407.57,335.62 408.30,334.30 C409.03,332.98 410.05,331.53 410.80,330.40 C411.55,329.27 412.07,328.15 412.80,327.50 C413.53,326.85 414.47,327.08 415.20,326.50 C415.93,325.92 416.38,324.82 417.20,324.00 C418.02,323.18 418.68,323.58 420.10,321.60 C421.52,319.62 423.63,315.58 425.70,312.10 C427.77,308.62 430.65,304.30 432.50,300.70 C434.35,297.10 434.13,294.70 436.80,290.50 C439.47,286.30 445.87,278.77 448.50,275.50 C451.13,272.23 451.08,272.43 452.60,270.90 C454.12,269.37 455.93,267.68 457.60,266.30 C459.27,264.92 460.93,263.60 462.60,262.60 C464.27,261.60 465.95,260.88 467.60,260.30 C469.25,259.72 470.85,259.33 472.50,259.10 C474.15,258.87 475.83,258.87 477.50,258.90 C479.17,258.93 481.12,259.10 482.50,259.30 C483.88,259.50 485.10,259.80 485.80,260.10 C486.50,260.40 485.05,260.00 486.70,261.10 C488.35,262.20 493.07,264.63 495.70,266.70 C498.33,268.77 500.95,272.03 502.50,273.50 C504.05,274.97 503.45,273.78 505.00,275.50 C506.55,277.22 509.72,280.92 511.80,283.80 C513.88,286.68 515.80,289.97 517.50,292.80 C519.20,295.63 520.50,297.58 522.00,300.80 C523.50,304.02 525.18,309.27 526.50,312.10 C527.82,314.93 528.77,315.15 529.90,317.80 C531.03,320.45 532.17,325.37 533.30,328.00 C534.43,330.63 535.75,330.97 536.70,333.60 C537.65,336.23 538.23,342.10 539.00,343.80 C539.77,345.50 540.55,342.28 541.30,343.80 C542.05,345.32 542.75,350.05 543.50,352.90 C544.25,355.75 545.03,359.08 545.80,360.90 C546.57,362.72 547.72,363.32 548.10,363.80" stroke="#0a0aee" stroke-width="1.80"/>
<path d="M379.40,370.60 C379.80,370.03 381.07,367.62 381.80,367.20 C382.53,366.78 383.13,367.78 383.80,368.10 C384.47,368.42 385.15,369.92 385.80,369.10 C386.45,368.28 386.88,361.65 387.70,363.20 C388.52,364.75 389.88,378.07 390.70,378.40 C391.52,378.73 391.95,369.20 392.60,365.20 C393.25,361.20 393.78,357.02 394.60,354.40 C395.42,351.78 396.52,350.53 397.50,349.50 C398.48,348.47 399.67,349.25 400.50,348.20 C401.33,347.15 401.85,344.53 402.50,343.20 C403.15,341.87 403.75,340.85 404.40,340.20 C405.05,339.55 405.75,340.12 406.40,339.30 C407.05,338.48 407.57,336.62 408.30,335.30 C409.03,333.98 410.05,332.53 410.80,331.40 C411.55,330.27 412.07,329.15 412.80,328.50 C413.53,327.85 414.47,328.08 415.20,327.50 C415.93,326.92 416.38,325.82 417.20,325.00 C418.02,324.18 418.68,324.55 420.10,322.60 C421.52,320.65 424.05,315.73 425.70,313.30 C427.35,310.87 428.15,310.95 430.00,308.00 C431.85,305.05 433.17,301.02 436.80,295.60 C440.43,290.18 448.47,279.75 451.80,275.50 C455.13,271.25 455.00,271.83 456.80,270.10 C458.60,268.37 460.80,266.42 462.60,265.10 C464.40,263.78 465.95,262.92 467.60,262.20 C469.25,261.48 470.85,261.12 472.50,260.80 C474.15,260.48 475.83,260.38 477.50,260.30 C479.17,260.22 481.12,260.18 482.50,260.30 C483.88,260.42 484.35,260.72 485.80,261.00 C487.25,261.28 488.78,261.10 491.20,262.00 C493.62,262.90 498.00,265.30 500.30,266.40 C502.60,267.50 502.70,266.92 505.00,268.60 C507.30,270.28 511.08,273.48 514.10,276.50 C517.12,279.52 520.08,282.85 523.10,286.70 C526.12,290.55 529.55,295.47 532.20,299.60 C534.85,303.73 536.53,307.77 539.00,311.50 C541.47,315.23 544.92,318.75 547.00,322.00 C549.08,325.25 550.00,328.03 551.50,331.00 C553.00,333.97 554.30,337.30 556.00,339.80 C557.70,342.30 560.00,343.07 561.70,346.00 C563.40,348.93 565.07,353.98 566.20,357.40 C567.33,360.82 567.55,363.02 568.50,366.50 C569.45,369.98 570.95,378.10 571.90,378.30 C572.85,378.50 573.45,367.70 574.20,367.70 C574.95,367.70 576.03,376.53 576.40,378.30" stroke="#76d6d0" stroke-width="1.80"/>
</g>
<line x1="360.30" y1="383.50" x2="360.30" y2="379.50" stroke="#000" stroke-width="1.40"/>
<text transform="matrix(0.6852 0.0000 0.0000 0.6944 356.4893 397.2485)" font-family="Liberation Sans" font-size="20" fill="#000">0</text>
<line x1="403.75" y1="383.50" x2="403.75" y2="379.50" stroke="#000" stroke-width="1.40"/>
<text transform="matrix(0.6544 0.0000 0.0000 0.6888 399.9360 397.2000)" font-family="Liberation Sans" font-size="20" fill="#000">1</text>
<line x1="447.21" y1="383.50" x2="447.21" y2="379.50" stroke="#000" stroke-width="1.40"/>
<text transform="matrix(0.6605 0.0000 0.0000 0.6909 443.5360 397.2000)" font-family="Liberation Sans" font-size="20" fill="#000">2</text>
<line x1="490.66" y1="383.50" x2="490.66" y2="379.50" stroke="#000" stroke-width="1.40"/>
<text transform="matrix(0.6580 0.0000 0.0000 0.6944 487.0425 397.2485)" font-family="Liberation Sans" font-size="20" fill="#000">3</text>
<line x1="534.12" y1="383.50" x2="534.12" y2="379.50" stroke="#000" stroke-width="1.40"/>
<text transform="matrix(0.6853 0.0000 0.0000 0.6888 530.3505 397.2000)" font-family="Liberation Sans" font-size="20" fill="#000">4</text>
<line x1="577.57" y1="383.50" x2="577.57" y2="379.50" stroke="#000" stroke-width="1.40"/>
<text transform="matrix(0.6467 0.0000 0.0000 0.6923 573.9890 397.2489)" font-family="Liberation Sans" font-size="20" fill="#000">5</text>
<line x1="360.30" y1="358.78" x2="364.30" y2="358.78" stroke="#000" stroke-width="1.40"/>
<rect x="337.84" y="359.47" width="8.14" height="1.08" fill="#000"/>
<text transform="matrix(0.6853 0.0000 0.0000 0.6888 347.6792 364.0833)" font-family="Liberation Sans" font-size="20" fill="#000">4</text>
<line x1="360.30" y1="309.35" x2="364.30" y2="309.35" stroke="#000" stroke-width="1.40"/>
<rect x="338.42" y="310.04" width="8.14" height="1.08" fill="#000"/>
<text transform="matrix(0.6605 0.0000 0.0000 0.6909 348.2181 314.6500)" font-family="Liberation Sans" font-size="20" fill="#000">2</text>
<line x1="360.30" y1="259.92" x2="364.30" y2="259.92" stroke="#000" stroke-width="1.40"/>
<text transform="matrix(0.6852 0.0000 0.0000 0.6944 347.8139 265.2651)" font-family="Liberation Sans" font-size="20" fill="#000">0</text>
<rect x="360.30" y="235.20" width="239.00" height="148.30" fill="none" stroke="#000" stroke-width="1.80"/>
<text transform="matrix(0.6889 0.0000 0.0000 0.7791 320.1456 234.3946)" font-family="Liberation Sans" font-size="20" fill="#000">(</text>
<text transform="matrix(0.8858 0.0000 0.0000 0.8589 326.1139 235.5348)" font-family="Liberation Sans" font-size="20" fill="#000">d</text>
<text transform="matrix(0.6889 0.0000 0.0000 0.7791 337.5297 234.3946)" font-family="Liberation Sans" font-size="20" fill="#000">)</text>
<text transform="matrix(0.8597 0.0000 0.0000 0.9894 406.8558 426.3295)" font-family="Liberation Serif" stroke="#fff" stroke-width="0.217" font-size="20" fill="#000">log</text>
<text transform="matrix(0.7036 0.0000 0.0000 0.7410 428.9631 431.0553)" font-family="Liberation Serif" stroke="#fff" stroke-width="0.277" font-size="20" fill="#000">10</text>
<path d="M457.20,404.40 Q444.00,421.80 457.20,439.20 Q447.40,421.80 457.20,404.40 Z" fill="#000"/>
<line x1="460.10" y1="412.98" x2="475.94" y2="412.98" stroke="#000" stroke-width="0.90"/>
<line x1="475.94" y1="412.98" x2="476.60" y2="417.01" stroke="#000" stroke-width="0.90"/>
<line x1="461.42" y1="413.36" x2="468.84" y2="422.38" stroke="#000" stroke-width="2.30"/>
<line x1="469.18" y1="421.81" x2="460.59" y2="430.83" stroke="#000" stroke-width="0.95"/>
<line x1="460.10" y1="430.93" x2="476.35" y2="430.93" stroke="#000" stroke-width="1.35"/>
<line x1="476.35" y1="431.02" x2="476.60" y2="426.42" stroke="#000" stroke-width="1.20"/>
<text transform="matrix(0.8041 0.0000 0.0000 0.4881 479.6268 417.1000)" font-family="Liberation Serif" font-style="italic" stroke="#fff" stroke-width="0.319" font-size="20" fill="#000">n</text>
<text transform="matrix(0.4959 0.0000 0.0000 0.5863 487.3157 415.9782)" font-family="Liberation Serif" font-size="20" fill="#000">*</text>
<text transform="matrix(0.8159 0.0000 0.0000 0.5730 478.5184 432.1000)" font-family="Liberation Serif" font-style="italic" stroke="#fff" stroke-width="0.293" font-size="20" fill="#000">n</text>
<path d="M487.60,427.95H495.50M487.60,429.95H495.50" stroke="#000" stroke-width="0.85"/>
<text transform="matrix(0.6959 0.0000 0.0000 0.5983 496.7767 432.6000)" font-family="Liberation Serif" stroke="#fff" stroke-width="0.310" font-size="20" fill="#000">1</text>
<text transform="matrix(1.0927 0.0000 0.0000 0.9695 508.9676 426.8000)" font-family="Liberation Serif" stroke="#fff" stroke-width="0.194" font-size="20" fill="#000">Δ</text>
<text transform="matrix(1.0553 0.0000 0.0000 0.9774 526.0473 426.8000)" font-family="Liberation Serif" font-style="italic" stroke="#fff" stroke-width="0.197" font-size="20" fill="#000">E</text>
<text transform="matrix(0.7213 0.0000 0.0000 0.5730 538.6858 429.7000)" font-family="Liberation Serif" font-style="italic" stroke="#fff" stroke-width="0.311" font-size="20" fill="#000">n</text>
<path d="M548.70,404.40 Q560.70,422.00 548.70,439.60 Q557.30,422.00 548.70,404.40 Z" fill="#000"/>
<text transform="matrix(0.0000 -0.8395 0.9674 0.0000 327.7244 346.0361)" font-family="Liberation Serif" stroke="#fff" stroke-width="0.222" font-size="20" fill="#000">log</text>
<text transform="matrix(0.0000 -0.6236 0.6743 0.0000 332.2683 322.8961)" font-family="Liberation Serif" stroke="#fff" stroke-width="0.308" font-size="20" fill="#000">10</text>
<path d="M313.00,303.20 Q322.75,312.40 332.50,303.20 Q322.75,309.50 313.00,303.20 Z" fill="#000"/>
<text transform="matrix(0.0000 -1.0832 0.9927 0.0000 327.5000 301.0836)" font-family="Liberation Serif" font-style="italic" stroke="#fff" stroke-width="0.193" font-size="20" fill="#000">P</text>
<path d="M313.00,286.90 Q322.75,277.90 332.50,286.90 Q322.75,280.80 313.00,286.90 Z" fill="#000"/>
<clipPath id="c5"><rect x="49.40" y="456.60" width="239.10" height="148.40"/></clipPath>
<g clip-path="url(#c5)" fill="none" stroke-linejoin="round" stroke-linecap="butt">
<path d="M46.40,605.00 L121.25,604.99 L122.48,604.86 L123.70,604.58 L125.24,604.07 L127.08,603.32 L128.00,602.78 L128.61,602.30 L129.84,600.98 L130.45,599.98 L131.07,598.53 L131.68,596.66 L132.60,593.18 L133.52,588.65 L134.44,581.50 L134.75,578.48 L135.36,570.18 L136.89,544.96 L141.19,481.72 L141.50,478.42 L142.42,472.37 L142.72,471.01 L143.03,470.22 L143.34,470.17 L143.64,470.81 L144.26,473.60 L144.87,477.40 L145.48,483.09 L149.47,530.81 L151.00,546.46 L151.92,563.71 L152.54,570.39 L153.15,575.59 L153.77,579.78 L154.69,584.99 L155.61,589.15 L156.53,592.45 L157.75,596.06 L158.67,598.16 L160.21,600.86 L161.43,602.47 L162.05,602.97 L162.66,603.31 L164.81,604.32 L166.34,604.79 L167.88,605.00 L291.50,605.00" stroke="#7aa0f0" stroke-width="1.80"/>
<path d="M46.40,605.00 L147.94,605.00 L149.78,604.87 L151.62,604.53 L153.77,603.91 L154.69,603.37 L155.61,602.39 L156.53,601.04 L157.45,599.40 L158.06,597.92 L159.29,593.30 L160.51,587.21 L162.05,576.73 L162.97,569.02 L163.58,562.36 L164.50,547.94 L168.18,514.35 L169.10,507.93 L169.72,505.02 L170.33,503.61 L170.94,502.54 L171.56,501.96 L171.86,501.90 L172.17,502.03 L172.78,502.73 L173.70,504.57 L174.01,505.47 L174.63,508.82 L175.55,515.15 L178.00,534.67 L181.07,560.35 L182.29,567.73 L184.13,576.92 L186.59,587.34 L187.20,589.68 L187.82,591.59 L189.35,595.00 L190.58,597.13 L191.80,598.70 L193.34,600.14 L194.56,601.08 L195.48,601.65 L197.33,602.44 L199.17,602.94 L203.15,603.76 L206.83,604.75 L208.68,605.00 L291.50,605.00" stroke="#0a0aee" stroke-width="1.80"/>
<path d="M46.40,605.00 L155.61,605.00 L157.14,604.89 L158.67,604.58 L160.21,604.09 L161.74,603.42 L162.35,602.88 L163.27,601.53 L164.20,599.74 L164.81,598.26 L165.73,595.01 L167.57,587.39 L168.80,581.25 L169.72,574.76 L170.64,565.44 L170.94,561.16 L171.56,547.98 L171.86,543.38 L174.63,521.16 L175.55,514.19 L176.16,510.84 L176.77,508.95 L177.39,507.45 L177.69,506.95 L178.00,506.66 L178.31,506.61 L178.92,506.93 L179.84,508.17 L180.76,510.17 L181.07,511.61 L184.13,532.52 L185.98,543.93 L188.74,565.88 L189.66,570.77 L191.19,577.04 L193.34,584.60 L194.87,589.29 L195.79,591.58 L197.02,593.87 L198.55,596.19 L199.78,597.67 L201.93,599.77 L203.15,600.76 L204.07,601.36 L204.99,601.84 L206.53,602.46 L213.89,604.54 L216.34,604.98 L291.50,605.00" stroke="#76d6d0" stroke-width="1.80"/>
<path d="M46.40,605.00 L99.47,604.97 L117.26,604.07 L120.94,603.81 L123.70,603.46 L127.08,602.86 L130.76,601.85 L135.05,600.27 L137.81,598.95 L140.27,597.30 L143.03,594.88 L145.18,592.48 L148.24,588.37 L157.14,574.06 L158.67,571.79 L160.21,569.84 L162.97,567.19 L164.20,566.21 L165.42,565.40 L166.34,564.94 L168.18,564.29 L169.41,563.99 L170.33,563.90 L171.86,564.06 L173.70,564.63 L175.85,565.66 L176.77,566.18 L177.39,566.65 L194.26,587.08 L197.94,590.96 L201.93,594.57 L204.38,596.46 L206.83,597.91 L209.90,599.38 L214.20,601.07 L216.96,601.83 L221.56,602.47 L223.09,602.77 L224.32,603.25 L227.08,604.62 L228.00,604.91 L228.61,604.99 L291.50,605.00" stroke="#000000" stroke-width="1.80"/>
</g>
<line x1="49.40" y1="605.00" x2="49.40" y2="601.00" stroke="#000" stroke-width="1.40"/>
<text transform="matrix(0.6852 0.0000 0.0000 0.6944 45.5893 618.7485)" font-family="Liberation Sans" font-size="20" fill="#000">0</text>
<line x1="92.87" y1="605.00" x2="92.87" y2="601.00" stroke="#000" stroke-width="1.40"/>
<text transform="matrix(0.6544 0.0000 0.0000 0.6888 89.0542 618.7000)" font-family="Liberation Sans" font-size="20" fill="#000">1</text>
<line x1="136.35" y1="605.00" x2="136.35" y2="601.00" stroke="#000" stroke-width="1.40"/>
<text transform="matrix(0.6605 0.0000 0.0000 0.6909 132.6723 618.7000)" font-family="Liberation Sans" font-size="20" fill="#000">2</text>
<line x1="179.82" y1="605.00" x2="179.82" y2="601.00" stroke="#000" stroke-width="1.40"/>
<text transform="matrix(0.6580 0.0000 0.0000 0.6944 176.1971 618.7485)" font-family="Liberation Sans" font-size="20" fill="#000">3</text>
<line x1="223.29" y1="605.00" x2="223.29" y2="601.00" stroke="#000" stroke-width="1.40"/>
<text transform="matrix(0.6853 0.0000 0.0000 0.6888 219.5233 618.7000)" font-family="Liberation Sans" font-size="20" fill="#000">4</text>
<line x1="266.76" y1="605.00" x2="266.76" y2="601.00" stroke="#000" stroke-width="1.40"/>
<text transform="matrix(0.6467 0.0000 0.0000 0.6923 263.1799 618.7489)" font-family="Liberation Sans" font-size="20" fill="#000">5</text>
<line x1="49.40" y1="605.00" x2="53.40" y2="605.00" stroke="#000" stroke-width="1.40"/>
<text transform="matrix(0.6852 0.0000 0.0000 0.6944 36.9139 610.3485)" font-family="Liberation Sans" font-size="20" fill="#000">0</text>
<line x1="49.40" y1="562.60" x2="53.40" y2="562.60" stroke="#000" stroke-width="1.40"/>
<text transform="matrix(0.6544 0.0000 0.0000 0.6888 37.3600 567.9000)" font-family="Liberation Sans" font-size="20" fill="#000">1</text>
<line x1="49.40" y1="520.20" x2="53.40" y2="520.20" stroke="#000" stroke-width="1.40"/>
<text transform="matrix(0.6605 0.0000 0.0000 0.6909 37.3181 525.5000)" font-family="Liberation Sans" font-size="20" fill="#000">2</text>
<line x1="49.40" y1="477.80" x2="53.40" y2="477.80" stroke="#000" stroke-width="1.40"/>
<text transform="matrix(0.6580 0.0000 0.0000 0.6944 37.2590 483.1485)" font-family="Liberation Sans" font-size="20" fill="#000">3</text>
<rect x="49.40" y="456.60" width="239.10" height="148.40" fill="none" stroke="#000" stroke-width="1.80"/>
<line x1="227.90" y1="480.80" x2="255.70" y2="480.80" stroke="#7aa0f0" stroke-width="1.80"/>
<text transform="matrix(0.6467 0.0000 0.0000 0.6923 266.0822 485.5489)" font-family="Liberation Sans" font-size="20" fill="#000">5</text>
<line x1="227.90" y1="495.10" x2="255.70" y2="495.10" stroke="#0a0aee" stroke-width="1.80"/>
<text transform="matrix(0.6544 0.0000 0.0000 0.6888 265.6030 499.8000)" font-family="Liberation Sans" font-size="20" fill="#000">1</text>
<text transform="matrix(0.6467 0.0000 0.0000 0.6923 273.9279 499.8489)" font-family="Liberation Sans" font-size="20" fill="#000">5</text>
<line x1="227.90" y1="509.70" x2="255.70" y2="509.70" stroke="#76d6d0" stroke-width="1.80"/>
<text transform="matrix(0.6605 0.0000 0.0000 0.6909 265.9357 514.4000)" font-family="Liberation Sans" font-size="20" fill="#000">2</text>
<text transform="matrix(0.6467 0.0000 0.0000 0.6923 274.4039 514.4489)" font-family="Liberation Sans" font-size="20" fill="#000">5</text>
<text transform="matrix(0.7008 0.0000 0.0000 0.6765 265.6692 470.9000)" font-family="Liberation Sans" font-size="20" fill="#000">n</text>
<text transform="matrix(0.5316 0.0000 0.0000 0.5127 275.9287 466.1548)" font-family="Liberation Sans" font-size="20" fill="#000">*</text>
<text transform="matrix(0.6889 0.0000 0.0000 0.7791 9.0456 455.7946)" font-family="Liberation Sans" font-size="20" fill="#000">(</text>
<text transform="matrix(0.8803 0.0000 0.0000 0.8542 15.0099 456.9357)" font-family="Liberation Sans" font-size="20" fill="#000">e</text>
<text transform="matrix(0.6889 0.0000 0.0000 0.7791 26.1113 455.7946)" font-family="Liberation Sans" font-size="20" fill="#000">)</text>
<text transform="matrix(0.8597 0.0000 0.0000 0.9894 95.9558 647.8295)" font-family="Liberation Serif" stroke="#fff" stroke-width="0.217" font-size="20" fill="#000">log</text>
<text transform="matrix(0.7036 0.0000 0.0000 0.7410 118.0631 652.5553)" font-family="Liberation Serif" stroke="#fff" stroke-width="0.277" font-size="20" fill="#000">10</text>
<path d="M146.30,625.90 Q133.10,643.30 146.30,660.70 Q136.50,643.30 146.30,625.90 Z" fill="#000"/>
<line x1="149.20" y1="634.48" x2="165.04" y2="634.48" stroke="#000" stroke-width="0.90"/>
<line x1="165.04" y1="634.48" x2="165.70" y2="638.51" stroke="#000" stroke-width="0.90"/>
<line x1="150.52" y1="634.86" x2="157.94" y2="643.88" stroke="#000" stroke-width="2.30"/>
<line x1="158.28" y1="643.31" x2="149.70" y2="652.33" stroke="#000" stroke-width="0.95"/>
<line x1="149.20" y1="652.43" x2="165.45" y2="652.43" stroke="#000" stroke-width="1.35"/>
<line x1="165.45" y1="652.52" x2="165.70" y2="647.92" stroke="#000" stroke-width="1.20"/>
<text transform="matrix(0.8041 0.0000 0.0000 0.4881 168.7268 638.6000)" font-family="Liberation Serif" font-style="italic" stroke="#fff" stroke-width="0.319" font-size="20" fill="#000">n</text>
<text transform="matrix(0.4959 0.0000 0.0000 0.5863 176.4157 637.4782)" font-family="Liberation Serif" font-size="20" fill="#000">*</text>
<text transform="matrix(0.8159 0.0000 0.0000 0.5730 167.6184 653.6000)" font-family="Liberation Serif" font-style="italic" stroke="#fff" stroke-width="0.293" font-size="20" fill="#000">n</text>
<path d="M176.70,649.45H184.60M176.70,651.45H184.60" stroke="#000" stroke-width="0.85"/>
<text transform="matrix(0.6959 0.0000 0.0000 0.5983 185.8767 654.1000)" font-family="Liberation Serif" stroke="#fff" stroke-width="0.310" font-size="20" fill="#000">1</text>
<text transform="matrix(1.0927 0.0000 0.0000 0.9695 198.0676 648.3000)" font-family="Liberation Serif" stroke="#fff" stroke-width="0.194" font-size="20" fill="#000">Δ</text>
<text transform="matrix(1.0553 0.0000 0.0000 0.9774 215.1473 648.3000)" font-family="Liberation Serif" font-style="italic" stroke="#fff" stroke-width="0.197" font-size="20" fill="#000">E</text>
<text transform="matrix(0.7213 0.0000 0.0000 0.5730 227.7858 651.2000)" font-family="Liberation Serif" font-style="italic" stroke="#fff" stroke-width="0.311" font-size="20" fill="#000">n</text>
<path d="M237.80,625.90 Q249.80,643.50 237.80,661.10 Q246.40,643.50 237.80,625.90 Z" fill="#000"/>
<text transform="matrix(0.0000 -1.0748 1.0156 0.0000 28.6000 535.7845)" font-family="Liberation Serif" font-style="italic" stroke="#fff" stroke-width="0.191" font-size="20" fill="#000">P</text>
<clipPath id="c6"><rect x="360.30" y="456.60" width="239.00" height="148.40"/></clipPath>
<g clip-path="url(#c6)" fill="none" stroke-linejoin="round" stroke-linecap="butt">
<path d="M428.40,586.30 C428.63,584.98 429.30,579.53 429.80,578.40 C430.30,577.27 430.87,581.73 431.40,579.50 C431.93,577.27 432.33,570.80 433.00,565.00 C433.67,559.20 434.63,551.48 435.40,544.70 C436.17,537.92 436.85,529.58 437.60,524.30 C438.35,519.02 439.05,517.33 439.90,513.00 C440.75,508.67 441.75,502.63 442.70,498.30 C443.65,493.97 444.55,490.77 445.60,487.00 C446.65,483.23 448.02,478.45 449.00,475.70 C449.98,472.95 450.67,471.72 451.50,470.50 C452.33,469.28 453.02,468.37 454.00,468.40 C454.98,468.43 456.43,469.63 457.40,470.70 C458.37,471.77 458.82,472.77 459.80,474.80 C460.78,476.83 462.15,480.00 463.30,482.90 C464.45,485.80 465.35,488.32 466.70,492.20 C468.05,496.08 470.03,501.93 471.40,506.20 C472.77,510.47 473.53,512.72 474.90,517.80 C476.27,522.88 478.33,532.25 479.60,536.70 C480.87,541.15 481.68,541.88 482.50,544.50 C483.32,547.12 483.98,550.88 484.50,552.40 C485.02,553.92 485.27,552.95 485.60,553.60 C485.93,554.25 486.18,554.55 486.50,556.30 C486.82,558.05 487.18,562.48 487.50,564.10 C487.82,565.72 488.08,564.68 488.40,566.00 C488.72,567.32 489.07,570.35 489.40,572.00 C489.73,573.65 490.07,574.12 490.40,575.90 C490.73,577.68 490.98,581.07 491.40,582.70 C491.82,584.33 492.52,586.02 492.90,585.70 C493.28,585.38 493.47,580.32 493.70,580.80 C493.93,581.28 494.03,586.65 494.30,588.60 C494.57,590.55 494.97,591.75 495.30,592.50 C495.63,593.25 496.13,593.00 496.30,593.10" stroke="#7aa0f0" stroke-width="1.80"/>
<path d="M458.30,581.80 C458.50,578.58 458.88,568.68 459.50,562.50 C460.12,556.32 461.08,552.15 462.00,544.70 C462.92,537.25 464.22,523.83 465.00,517.80 C465.78,511.77 465.83,512.57 466.70,508.50 C467.57,504.43 468.83,498.25 470.20,493.40 C471.57,488.55 473.52,482.67 474.90,479.40 C476.28,476.13 477.25,475.15 478.50,473.80 C479.75,472.45 481.23,471.50 482.40,471.30 C483.57,471.10 484.43,471.63 485.50,472.60 C486.57,473.57 487.08,474.42 488.80,477.10 C490.52,479.78 493.47,484.63 495.80,488.70 C498.13,492.77 500.47,497.23 502.80,501.50 C505.13,505.77 507.17,509.42 509.80,514.30 C512.43,519.18 516.00,525.78 518.60,530.80 C521.20,535.82 523.52,540.62 525.40,544.40 C527.28,548.18 528.58,550.85 529.90,553.50 C531.22,556.15 532.35,558.78 533.30,560.30 C534.25,561.82 534.83,561.08 535.60,562.60 C536.37,564.12 537.33,566.77 537.90,569.40 C538.47,572.03 538.43,577.65 539.00,578.40 C539.57,579.15 540.55,573.52 541.30,573.90 C542.05,574.28 542.75,580.52 543.50,580.70 C544.25,580.88 545.03,574.05 545.80,575.00 C546.57,575.95 547.33,585.25 548.10,586.40 C548.87,587.55 549.65,580.97 550.40,581.90 C551.15,582.83 552.03,591.43 552.60,592.00 C553.17,592.57 553.23,587.18 553.80,585.30 C554.37,583.42 555.63,581.47 556.00,580.70" stroke="#0a0aee" stroke-width="1.80"/>
<path d="M463.50,581.80 C463.77,578.50 464.32,568.18 465.10,562.00 C465.88,555.82 467.15,551.87 468.20,544.70 C469.25,537.53 470.67,524.65 471.40,519.00 C472.13,513.35 471.83,514.87 472.60,510.80 C473.37,506.73 474.65,499.43 476.00,494.60 C477.35,489.77 479.28,485.07 480.70,481.80 C482.12,478.53 483.05,476.65 484.50,475.00 C485.95,473.35 487.52,471.73 489.40,471.90 C491.28,472.07 493.57,473.77 495.80,476.00 C498.03,478.23 500.47,481.63 502.80,485.30 C505.13,488.97 507.17,492.87 509.80,498.00 C512.43,503.13 516.00,511.20 518.60,516.10 C521.20,521.00 523.13,523.82 525.40,527.40 C527.67,530.98 529.93,534.38 532.20,537.60 C534.47,540.82 536.92,544.43 539.00,546.70 C541.08,548.97 543.18,549.50 544.70,551.20 C546.22,552.90 546.78,555.20 548.10,556.90 C549.42,558.60 551.08,559.70 552.60,561.40 C554.12,563.10 555.87,565.20 557.20,567.10 C558.53,569.00 559.67,570.53 560.60,572.80 C561.53,575.07 562.05,579.77 562.80,580.70 C563.55,581.63 564.33,577.63 565.10,578.40 C565.87,579.17 566.45,586.05 567.40,585.30 C568.35,584.55 569.87,572.78 570.80,573.90 C571.73,575.02 572.25,590.87 573.00,592.00 C573.75,593.13 574.62,580.70 575.30,580.70 C575.98,580.70 575.97,589.92 577.10,592.00 C578.23,594.08 580.32,593.00 582.10,593.20 C583.88,593.40 586.85,593.20 587.80,593.20" stroke="#76d6d0" stroke-width="1.80"/>
<path d="M380.90,592.70 C381.20,591.45 381.83,586.57 382.70,585.20 C383.57,583.83 384.97,585.07 386.10,584.50 C387.23,583.93 388.57,580.55 389.50,581.80 C390.43,583.05 390.95,591.82 391.70,592.00 C392.45,592.18 393.23,586.30 394.00,582.90 C394.77,579.50 395.35,573.68 396.30,571.60 C397.25,569.52 398.95,570.40 399.70,570.40 C400.45,570.40 400.23,572.73 400.80,571.60 C401.37,570.47 402.15,565.50 403.10,563.60 C404.05,561.70 405.18,562.27 406.50,560.20 C407.82,558.13 409.68,552.78 411.00,551.20 C412.32,549.62 413.45,551.45 414.40,550.70 C415.35,549.95 415.75,547.70 416.70,546.70 C417.65,545.70 418.87,546.17 420.10,544.70 C421.33,543.23 422.97,539.78 424.10,537.90 C425.23,536.02 425.97,535.10 426.90,533.40 C427.83,531.70 428.57,529.68 429.70,527.70 C430.83,525.72 432.38,523.47 433.70,521.50 C435.02,519.53 436.18,517.88 437.60,515.90 C439.02,513.92 440.68,511.58 442.20,509.60 C443.72,507.62 445.00,506.07 446.70,504.00 C448.40,501.93 450.52,499.28 452.40,497.20 C454.28,495.12 456.12,493.20 458.00,491.50 C459.88,489.80 461.82,488.32 463.70,487.00 C465.58,485.68 467.43,484.47 469.30,483.60 C471.17,482.73 472.80,482.20 474.90,481.80 C477.00,481.40 479.58,481.12 481.90,481.20 C484.22,481.28 486.48,481.72 488.80,482.30 C491.12,482.88 493.47,483.63 495.80,484.70 C498.13,485.77 500.47,487.15 502.80,488.70 C505.13,490.25 507.92,492.45 509.80,494.00 C511.68,495.55 511.88,495.63 514.10,498.00 C516.32,500.37 520.08,504.43 523.10,508.20 C526.12,511.97 529.55,516.83 532.20,520.60 C534.85,524.37 536.73,527.58 539.00,530.80 C541.27,534.02 543.72,536.30 545.80,539.90 C547.88,543.50 549.80,549.00 551.50,552.40 C553.20,555.80 554.48,558.23 556.00,560.30 C557.52,562.37 559.08,562.92 560.60,564.80 C562.12,566.68 563.97,569.33 565.10,571.60 C566.23,573.87 566.77,575.75 567.40,578.40 C568.03,581.05 568.33,585.23 568.90,587.50 C569.47,589.77 570.12,591.80 570.80,592.00 C571.48,592.20 572.25,588.70 573.00,588.70 C573.75,588.70 574.62,591.45 575.30,592.00 C575.98,592.55 576.80,592.00 577.10,592.00" stroke="#000000" stroke-width="1.80"/>
</g>
<line x1="360.30" y1="605.00" x2="360.30" y2="601.00" stroke="#000" stroke-width="1.40"/>
<text transform="matrix(0.6852 0.0000 0.0000 0.6944 356.4893 618.7485)" font-family="Liberation Sans" font-size="20" fill="#000">0</text>
<line x1="403.75" y1="605.00" x2="403.75" y2="601.00" stroke="#000" stroke-width="1.40"/>
<text transform="matrix(0.6544 0.0000 0.0000 0.6888 399.9360 618.7000)" font-family="Liberation Sans" font-size="20" fill="#000">1</text>
<line x1="447.21" y1="605.00" x2="447.21" y2="601.00" stroke="#000" stroke-width="1.40"/>
<text transform="matrix(0.6605 0.0000 0.0000 0.6909 443.5360 618.7000)" font-family="Liberation Sans" font-size="20" fill="#000">2</text>
<line x1="490.66" y1="605.00" x2="490.66" y2="601.00" stroke="#000" stroke-width="1.40"/>
<text transform="matrix(0.6580 0.0000 0.0000 0.6944 487.0425 618.7485)" font-family="Liberation Sans" font-size="20" fill="#000">3</text>
<line x1="534.12" y1="605.00" x2="534.12" y2="601.00" stroke="#000" stroke-width="1.40"/>
<text transform="matrix(0.6853 0.0000 0.0000 0.6888 530.3505 618.7000)" font-family="Liberation Sans" font-size="20" fill="#000">4</text>
<line x1="577.57" y1="605.00" x2="577.57" y2="601.00" stroke="#000" stroke-width="1.40"/>
<text transform="matrix(0.6467 0.0000 0.0000 0.6923 573.9890 618.7489)" font-family="Liberation Sans" font-size="20" fill="#000">5</text>
<line x1="360.30" y1="580.27" x2="364.30" y2="580.27" stroke="#000" stroke-width="1.40"/>
<rect x="337.84" y="580.95" width="8.14" height="1.08" fill="#000"/>
<text transform="matrix(0.6853 0.0000 0.0000 0.6888 347.6792 585.5667)" font-family="Liberation Sans" font-size="20" fill="#000">4</text>
<line x1="360.30" y1="530.80" x2="364.30" y2="530.80" stroke="#000" stroke-width="1.40"/>
<rect x="338.42" y="531.49" width="8.14" height="1.08" fill="#000"/>
<text transform="matrix(0.6605 0.0000 0.0000 0.6909 348.2181 536.1000)" font-family="Liberation Sans" font-size="20" fill="#000">2</text>
<line x1="360.30" y1="481.33" x2="364.30" y2="481.33" stroke="#000" stroke-width="1.40"/>
<text transform="matrix(0.6852 0.0000 0.0000 0.6944 347.8139 486.6818)" font-family="Liberation Sans" font-size="20" fill="#000">0</text>
<rect x="360.30" y="456.60" width="239.00" height="148.40" fill="none" stroke="#000" stroke-width="1.80"/>
<text transform="matrix(0.6889 0.0000 0.0000 0.7791 320.1456 455.7946)" font-family="Liberation Sans" font-size="20" fill="#000">(</text>
<text transform="matrix(1.0702 0.0000 0.0000 0.8557 326.0294 456.8717)" font-family="Liberation Sans" font-size="20" fill="#000">f</text>
<text transform="matrix(0.6889 0.0000 0.0000 0.7791 332.9214 455.7946)" font-family="Liberation Sans" font-size="20" fill="#000">)</text>
<text transform="matrix(0.8597 0.0000 0.0000 0.9894 406.8558 647.8295)" font-family="Liberation Serif" stroke="#fff" stroke-width="0.217" font-size="20" fill="#000">log</text>
<text transform="matrix(0.7036 0.0000 0.0000 0.7410 428.9631 652.5553)" font-family="Liberation Serif" stroke="#fff" stroke-width="0.277" font-size="20" fill="#000">10</text>
<path d="M457.20,625.90 Q444.00,643.30 457.20,660.70 Q447.40,643.30 457.20,625.90 Z" fill="#000"/>
<line x1="460.10" y1="634.48" x2="475.94" y2="634.48" stroke="#000" stroke-width="0.90"/>
<line x1="475.94" y1="634.48" x2="476.60" y2="638.51" stroke="#000" stroke-width="0.90"/>
<line x1="461.42" y1="634.86" x2="468.84" y2="643.88" stroke="#000" stroke-width="2.30"/>
<line x1="469.18" y1="643.31" x2="460.59" y2="652.33" stroke="#000" stroke-width="0.95"/>
<line x1="460.10" y1="652.43" x2="476.35" y2="652.43" stroke="#000" stroke-width="1.35"/>
<line x1="476.35" y1="652.52" x2="476.60" y2="647.92" stroke="#000" stroke-width="1.20"/>
<text transform="matrix(0.8041 0.0000 0.0000 0.4881 479.6268 638.6000)" font-family="Liberation Serif" font-style="italic" stroke="#fff" stroke-width="0.319" font-size="20" fill="#000">n</text>
<text transform="matrix(0.4959 0.0000 0.0000 0.5863 487.3157 637.4782)" font-family="Liberation Serif" font-size="20" fill="#000">*</text>
<text transform="matrix(0.8159 0.0000 0.0000 0.5730 478.5184 653.6000)" font-family="Liberation Serif" font-style="italic" stroke="#fff" stroke-width="0.293" font-size="20" fill="#000">n</text>
<path d="M487.60,649.45H495.50M487.60,651.45H495.50" stroke="#000" stroke-width="0.85"/>
<text transform="matrix(0.6959 0.0000 0.0000 0.5983 496.7767 654.1000)" font-family="Liberation Serif" stroke="#fff" stroke-width="0.310" font-size="20" fill="#000">1</text>
<text transform="matrix(1.0927 0.0000 0.0000 0.9695 508.9676 648.3000)" font-family="Liberation Serif" stroke="#fff" stroke-width="0.194" font-size="20" fill="#000">Δ</text>
<text transform="matrix(1.0553 0.0000 0.0000 0.9774 526.0473 648.3000)" font-family="Liberation Serif" font-style="italic" stroke="#fff" stroke-width="0.197" font-size="20" fill="#000">E</text>
<text transform="matrix(0.7213 0.0000 0.0000 0.5730 538.6858 651.2000)" font-family="Liberation Serif" font-style="italic" stroke="#fff" stroke-width="0.311" font-size="20" fill="#000">n</text>
<path d="M548.70,625.90 Q560.70,643.50 548.70,661.10 Q557.30,643.50 548.70,625.90 Z" fill="#000"/>
<text transform="matrix(0.0000 -0.8395 0.9674 0.0000 327.7244 567.4361)" font-family="Liberation Serif" stroke="#fff" stroke-width="0.222" font-size="20" fill="#000">log</text>
<text transform="matrix(0.0000 -0.6236 0.6743 0.0000 332.2683 544.2961)" font-family="Liberation Serif" stroke="#fff" stroke-width="0.308" font-size="20" fill="#000">10</text>
<path d="M313.00,524.60 Q322.75,533.80 332.50,524.60 Q322.75,530.90 313.00,524.60 Z" fill="#000"/>
<text transform="matrix(0.0000 -1.0832 0.9927 0.0000 327.5000 522.4836)" font-family="Liberation Serif" font-style="italic" stroke="#fff" stroke-width="0.193" font-size="20" fill="#000">P</text>
<path d="M313.00,508.30 Q322.75,499.30 332.50,508.30 Q322.75,502.20 313.00,508.30 Z" fill="#000"/>
</svg>
</body></html>
